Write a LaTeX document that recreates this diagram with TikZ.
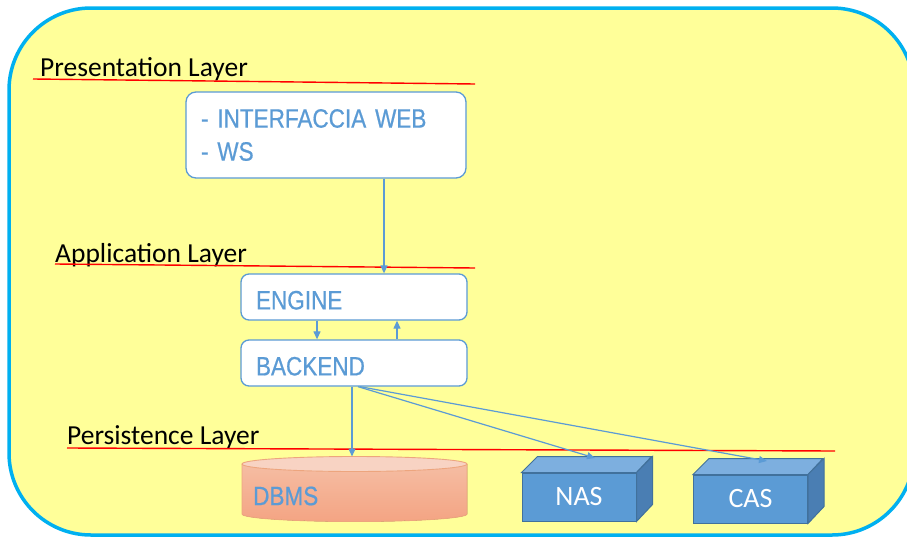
\documentclass[tikz,border=0pt]{standalone}
\usepackage{fontspec}
\setmainfont{Liberation Sans}
\newfontfamily\calfont{Carlito}
\newfontfamily\narfont[FakeStretch=0.85,FakeBold=0.6]{Liberation Sans}
\usetikzlibrary{arrows.meta}
\definecolor{bgy}{HTML}{FFFF99}
\definecolor{cyanb}{HTML}{00B0F0}
\definecolor{lblue}{HTML}{5B9BD5}
\definecolor{boxdark}{HTML}{41719C}
\definecolor{boxtop}{HTML}{7DAFDF}
\definecolor{boxside}{HTML}{4A7EB3}
\definecolor{dbtop}{HTML}{F8D3C3}
\definecolor{dbhi}{HTML}{F5BDA3}
\definecolor{dblo}{HTML}{F4A483}
\definecolor{dbline}{HTML}{EDA57E}
\begin{document}
\begin{tikzpicture}[x=1pt,y=-1pt,
  layer/.style={anchor=base west, inner sep=0pt, font=\calfont\fontsize{27.5}{30}\selectfont, text=black},
  redline/.style={draw=red, line width=1.4pt},
  wbox/.style={draw=lblue, line width=1.3pt, fill=white, rounded corners=10pt, inner sep=0pt,
    text=lblue, font=\narfont\fontsize{26.5}{33}\selectfont, align=left},
  arr/.style={draw=lblue, line width=1.2pt, -{Triangle[length=8pt,width=7pt]}},
  cube/.style={draw=boxdark, line width=1pt, fill=lblue, inner sep=0pt, minimum width=114pt,
    minimum height=48pt, text=white, font=\calfont\fontsize{28}{30}\selectfont},
]
\useasboundingbox (0,0) rectangle (907,538);
\clip (0,0) rectangle (907,538);
% background
\draw[fill=bgy, draw=cyanb, line width=3.5pt, rounded corners=82pt] (9,8) rectangle (914,535);

% layer labels and lines
\node[layer] (lpres) at (40,76) {Presentation Layer};
\draw[redline] (33,79) -- (475,84);
\node[layer] (lapp) at (55,262) {Application Layer};
\draw[redline] (55,264) -- (475,268);
\node[layer] (lpers) at (67,444) {Persistence Layer};
\draw[redline] (67,448) -- (835,451);

% presentation box
\node[wbox, minimum width=280pt, minimum height=86pt, text width=250pt, inner xsep=15pt] (web) at (326,135) {\raisebox{-2pt}{- INTERFACCIA WEB}\\\raisebox{-2pt}{- WS}};
% engine, backend
\node[wbox, rounded corners=8pt, minimum width=226pt, minimum height=46pt, text width=196pt, inner xsep=15pt, text height=25pt] (engine) at (354,297) {ENGINE};
\node[wbox, rounded corners=8pt, minimum width=226pt, minimum height=46pt, text width=196pt, inner xsep=15pt, text height=25pt] (backend) at (354,363) {BACKEND};

% DBMS cylinder
\fill[top color=dbhi, bottom color=dblo] (242,464) -- (242,514) arc[start angle=180, end angle=360, x radius=112.5pt, y radius=7.5pt] -- (467,464) -- cycle;
\draw[dbline, line width=0.9pt] (242,464) -- (242,514) arc[start angle=180, end angle=360, x radius=112.5pt, y radius=7.5pt] -- (467,464);
\draw[dbline, fill=dbtop, line width=0.9pt] (354.5,464) ellipse[x radius=112.5pt, y radius=7.5pt];
\node[inner sep=0pt, minimum width=225pt, minimum height=64pt, anchor=north west] (dbms) at (242,456.5) {};
\node[anchor=west, inner sep=0pt, text=lblue, font=\narfont\fontsize{26.5}{30}\selectfont] (dbmslabel) at (253,496) {DBMS};

% NAS
\node[cube] (nas) at (579,497) {NAS};
\filldraw[fill=boxtop, draw=boxdark, line width=1pt] (nas.north west) -- ++(16,-16) -- ++(114,0) -- (nas.north east) -- cycle;
\filldraw[fill=boxside, draw=boxdark, line width=1pt] (nas.north east) -- ++(16,-16) -- ++(0,48) -- (nas.south east) -- cycle;
\coordinate (nastop) at (595,458);
% CAS
\node[cube] (cas) at (750.5,499) {CAS};
\filldraw[fill=boxtop, draw=boxdark, line width=1pt] (cas.north west) -- ++(16,-16) -- ++(114,0) -- (cas.north east) -- cycle;
\filldraw[fill=boxside, draw=boxdark, line width=1pt] (cas.north east) -- ++(16,-16) -- ++(0,48) -- (cas.south east) -- cycle;
\coordinate (castop) at (767,461);

% connectors
\draw[arr] (web.south -| 384,0) -- (engine.north -| 384,0);
\draw[arr] (engine.south -| 317,0) -- (backend.north -| 317,0);
\draw[arr] (backend.north -| 397,0) -- (engine.south -| 397,0);
\draw[arr] (backend.south -| 352,0) -- (dbms.north -| 352,0);
\draw[arr] (backend.south -| 358,0) -- (nastop);
\draw[arr] (backend.south -| 360,0) -- (castop);
\end{tikzpicture}
\end{document}
